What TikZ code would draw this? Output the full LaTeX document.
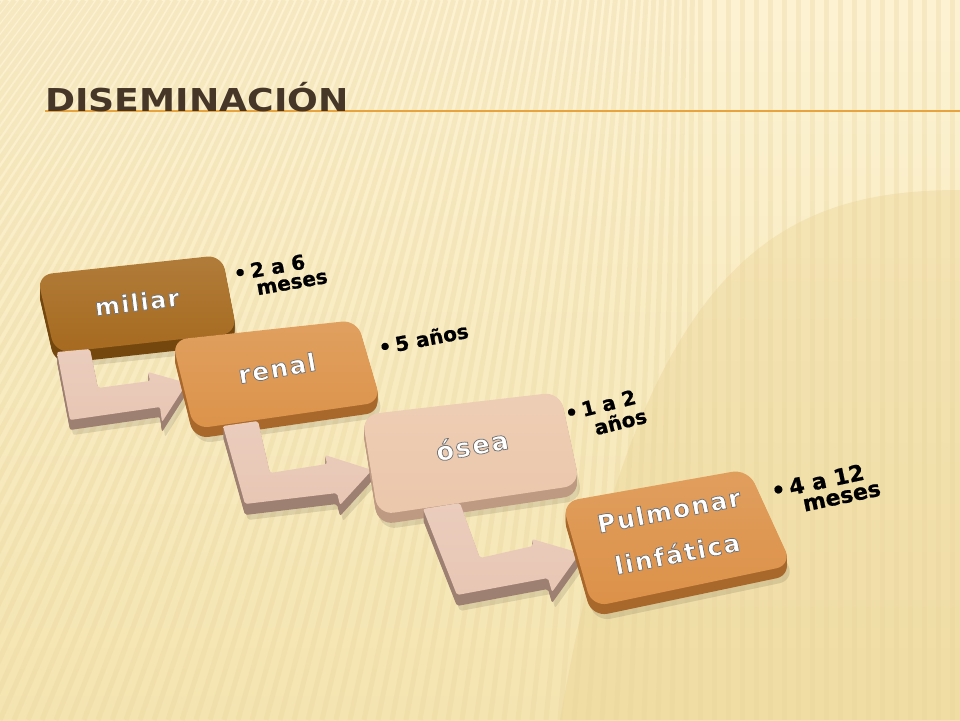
\documentclass[tikz,border=0pt]{standalone}
\usepackage{fontspec}
\setmainfont{DejaVu Sans}
\newfontfamily\titlefont{DejaVu Sans}
\newfontfamily\boxfont[LetterSpace=6]{DejaVu Sans Bold}
\newfontfamily\labfont[FakeBold=0.8]{DejaVu Sans Bold}
\definecolor{bgtop}{HTML}{FDF3D3}
\definecolor{bgbot}{HTML}{F4E4B0}
\definecolor{stripe}{HTML}{E8D49C}
\definecolor{darkzone}{HTML}{E9D08E}
\definecolor{titlec}{HTML}{463628}
\definecolor{rulec}{HTML}{E6A33E}
\definecolor{milF}{HTML}{A66A1F}
\definecolor{milS}{HTML}{74470F}
\definecolor{renF}{HTML}{DC934A}
\definecolor{renS}{HTML}{A8682C}
\definecolor{oseF}{HTML}{EBC7AB}
\definecolor{oseS}{HTML}{BE9A82}
\definecolor{pulF}{HTML}{DC9148}
\definecolor{pulS}{HTML}{A8672B}
\definecolor{arrF}{HTML}{E8C6B4}
\definecolor{arrS}{HTML}{9E8072}
\newcommand\mySlab[5]{% #1 path, #2 face, #3 side, #4 depth, #5 radius
  \fill[black, opacity=0.10, rounded corners=#5, xshift=3pt, yshift=-#4pt-5pt] #1;
  \foreach \dd in {1,...,#4}{\fill[#3, rounded corners=#5, yshift=-\dd pt] #1;}
  \shade[top color=#2!88!white, bottom color=#2, rounded corners=#5] #1;
}
% white text with a grey outline (stroke colour set after the fill colour)
\newcommand\outl[1]{\special{pdf:literal direct 0.45 0.45 0.45 RG 0.75 w 1 j 2 Tr}#1\special{pdf:literal direct 0 Tr}}
\tikzset{
  boxtxt/.style={font=\boxfont\fontsize{25}{30}\selectfont, text=white, inner sep=0, align=center},
  lab/.style={font=\labfont\fontsize{20}{18}\selectfont, text=black, anchor=base west, inner sep=0},
}
\begin{document}
\begin{tikzpicture}[x=1pt,y=-1pt]
\useasboundingbox (0,0) rectangle (960,720);
% background
\begin{scope}
\clip (0,0) rectangle (960,720);
\shade[top color=bgtop, bottom color=bgbot] (0,0) rectangle (960,720);
\fill[darkzone, opacity=0.35] (960,190) .. controls (780,190) and (640,260) .. (560,720) -- (960,720) -- cycle;
\foreach \i in {-50,...,70}{
  \pgfmathsetmacro\xb{\i*14}
  \pgfmathsetmacro\xt{\xb + max(0,0.45*(700-\xb))}
  \draw[stripe, line width=5pt, opacity=0.30] (\xb,720) -- (\xt,0);
}
\end{scope}
% title
\coordinate (ruleEnd) at (960,111);
\draw[rulec, line width=1.8pt] (45,111) -- (ruleEnd);
\node[font=\titlefont\bfseries\fontsize{31.5}{36}\selectfont, text=titlec, anchor=base west, inner sep=0, xscale=1.15] (title) at (45,111) {DISEMINACIÓN};
% box 1
\mySlab{(37,275) -- (222,255) -- (237,333) -- (55,353) -- cycle}{milF}{milS}{11}{15pt}
% arrow 1
\mySlab{(57,352) -- (90,349) -- (98,388) -- (150,381) -- (148,372) -- (187,383) -- (162,422) -- (160,407) -- (70,420) -- cycle}{arrF}{arrS}{10}{2pt}
% box 2
\mySlab{(172,340) -- (357,320) -- (381,402) -- (194,429) -- cycle}{renF}{renS}{10}{15pt}
% arrow 2
\mySlab{(223,426) -- (258,421) -- (270,473) -- (327,464) -- (325,455) -- (372,470) -- (340,505) -- (337,493) -- (245,504) -- cycle}{arrF}{arrS}{11}{2pt}
% box 3
\mySlab{(362,415) -- (560,392) -- (580,485) -- (378,515) -- cycle}{oseF}{oseS}{10}{16pt}
% arrow 3
\mySlab{(423,509) -- (460,503) -- (480,558) -- (533,546) -- (532,539) -- (580,553) -- (552,592) -- (548,578) -- (457,595) -- cycle}{arrF}{arrS}{11}{2pt}
% box 4
\mySlab{(562,502) -- (748,469) -- (792,565) -- (592,607) -- cycle}{pulF}{pulS}{10}{16pt}
% box texts
\node[boxtxt, rotate=7, font=\boxfont\fontsize{24}{30}\selectfont] (miliar) at (137,302) {\outl{miliar}};
\node[boxtxt, rotate=10] (renal) at (277,368) {\outl{renal}};
\node[boxtxt, rotate=10, font=\boxfont\fontsize{26}{30}\selectfont] (osea) at (472,445) {\outl{ósea}};
\node[boxtxt, rotate=11, font=\boxfont\fontsize{25}{44}\selectfont] (pul) at (673,532) {\outl{Pulmonar}\\\outl{linfática}};
% labels
\node[lab, rotate=10] (l1) at (235,281) {•\hspace{4pt}\begin{tabular}[t]{@{}l@{}}2 a 6\\\hspace{3pt}meses\end{tabular}};
\node[lab, rotate=11] (l2) at (380,355) {•\hspace{4pt}5 años};
\node[lab, rotate=14] (l3) at (567,421) {•\hspace{4pt}\begin{tabular}[t]{@{}l@{}}1 a 2\\\hspace{8pt}años\end{tabular}};
\node[lab, rotate=12, font=\labfont\fontsize{22}{19}\selectfont] (l4) at (773,499) {•\hspace{4pt}\begin{tabular}[t]{@{}l@{}}4 a 12\\\hspace{10pt}meses\end{tabular}};
\end{tikzpicture}
\end{document}
